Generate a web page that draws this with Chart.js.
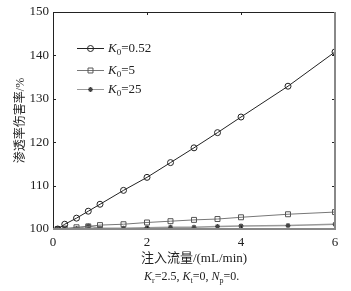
<!DOCTYPE html>
<html lang="zh">
<head>
    <meta charset="UTF-8">
    <title>渗透率伤害率</title>
    <script src="https://cdn.jsdelivr.net/npm/chart.js"></script>
    <style>
        * { margin: 0; padding: 0; box-sizing: border-box; }
        body { background: #fff; width: 351px; height: 291px; overflow: hidden; }
        .chart-box { position: relative; width: 351px; height: 291px; }
    </style>
</head>
<body>
    <div class="chart-box">
        <canvas id="damage"></canvas>
    </div>

    <script>
        // 注入流量 (mL/min)
        const flowRates = [0.1, 0.25, 0.5, 0.75, 1, 1.5, 2, 2.5, 3, 3.5, 4, 5, 6];
        // 渗透率伤害率 (%)
        const damageK052 = [100, 101.1, 102.5, 104.1, 105.7, 108.9, 111.9, 115.3, 118.7, 122.2, 125.8, 132.9, 140.8];
        const damageK5 = [100, 100.1, 100.4, 100.6, 100.9, 101.1, 101.5, 101.8, 102.1, 102.3, 102.7, 103.4, 103.9];
        const damageK25 = [100, 100, 100.1, 100.7, 100.2, 100.2, 100.3, 100.4, 100.4, 100.6, 100.7, 100.8, 101.1];
        const xTicks = [0, 2, 4, 6];
        const yTicks = [100, 110, 120, 130, 140, 150];
        const legendLabels = ['0.52', '5', '25'];

        const SERIF = "'Liberation Serif', 'Noto Sans CJK SC', serif";

        function pairs(ys) {
            return flowRates.map((x, i) => ({ x: x, y: ys[i] }));
        }

        // 图例、边框、内向刻度和参数说明
        const decor = {
            id: 'decor',
            afterDraw(chart) {
                const ctx = chart.ctx;
                const a = chart.chartArea;
                const xs = chart.scales.x, ys = chart.scales.y;
                ctx.save();

                // 内向刻度
                ctx.strokeStyle = '#222';
                ctx.lineWidth = 1;
                ctx.beginPath();
                xTicks.forEach(v => {
                    const px = Math.round(xs.getPixelForValue(v)) + 0.5;
                    ctx.moveTo(px, a.bottom); ctx.lineTo(px, a.bottom - 3);
                    ctx.moveTo(px, a.top); ctx.lineTo(px, a.top + 3);
                });
                yTicks.forEach(v => {
                    const py = Math.round(ys.getPixelForValue(v)) + 0.5;
                    ctx.moveTo(a.left, py); ctx.lineTo(a.left + 3, py);
                    ctx.moveTo(a.right, py); ctx.lineTo(a.right - 3, py);
                });
                ctx.stroke();

                // 边框
                ctx.beginPath();
                ctx.moveTo(a.left + 0.5, a.bottom);
                ctx.lineTo(a.left + 0.5, a.top + 0.5);
                ctx.lineTo(a.right, a.top + 0.5);
                ctx.stroke();
                ctx.strokeStyle = '#888';
                ctx.lineWidth = 2;
                ctx.beginPath();
                ctx.moveTo(a.right, a.top);
                ctx.lineTo(a.right, a.bottom);
                ctx.lineTo(a.left, a.bottom);
                ctx.stroke();

                // 图例
                const rows = [48, 70, 89];
                chart.data.datasets.forEach((ds, i) => {
                    const y = rows[i];
                    ctx.strokeStyle = ds.borderColor;
                    ctx.lineWidth = 1;
                    ctx.beginPath();
                    ctx.moveTo(77, y + 0.5); ctx.lineTo(104, y + 0.5);
                    ctx.stroke();
                    ctx.strokeStyle = ds.pointBorderColor;
                    ctx.fillStyle = ds.pointBackgroundColor;
                    ctx.lineWidth = ds.pointBorderWidth;
                    Chart.helpers.drawPoint(ctx, {
                        pointStyle: ds.pointStyle,
                        rotation: 0,
                        radius: ds.pointRadius,
                        borderWidth: ds.pointBorderWidth
                    }, 90.5, y + 0.5);
                    ctx.fillStyle = '#222';
                    drawSub(ctx, 'K', '0', '=' + legendLabels[i], 108, y + 4, 13);
                });

                // 参数说明
                ctx.fillStyle = '#222';
                let x = 144;
                const cy = 280;
                x = drawSub(ctx, 'K', 'r', '=2.5, ', x, cy, 12);
                x = drawSub(ctx, 'K', 't', '=0, ', x, cy, 12);
                drawSub(ctx, 'N', 'p', '=0.', x, cy, 12);

                ctx.restore();
            }
        };

        function drawSub(ctx, letter, sub, rest, x, y, size) {
            ctx.textBaseline = 'alphabetic';
            ctx.textAlign = 'left';
            ctx.font = 'italic ' + size + 'px ' + SERIF;
            ctx.fillText(letter, x, y);
            x += ctx.measureText(letter).width;
            ctx.font = Math.round(size * 0.7) + 'px ' + SERIF;
            ctx.fillText(sub, x, y + 3);
            x += ctx.measureText(sub).width;
            ctx.font = size + 'px ' + SERIF;
            ctx.fillText(rest, x, y);
            return x + ctx.measureText(rest).width;
        }

        const chartCtx = document.getElementById('damage').getContext('2d');
        new Chart(chartCtx, {
            type: 'line',
            data: {
                datasets: [{
                    label: 'K0=0.52',
                    data: pairs(damageK052),
                    borderColor: '#222',
                    pointBorderColor: '#222',
                    pointBackgroundColor: 'rgba(0,0,0,0)',
                    pointStyle: 'circle',
                    pointRadius: 3,
                    borderWidth: 1,
                    pointBorderWidth: 1
                }, {
                    label: 'K0=5',
                    data: pairs(damageK5),
                    borderColor: '#777',
                    pointBorderColor: '#555',
                    pointBackgroundColor: 'rgba(0,0,0,0)',
                    pointStyle: 'rect',
                    pointRadius: 3.5,
                    borderWidth: 1,
                    pointBorderWidth: 1
                }, {
                    label: 'K0=25',
                    data: pairs(damageK25),
                    borderColor: '#999',
                    pointBorderColor: '#444',
                    pointBackgroundColor: '#444',
                    pointStyle: 'star',
                    pointRadius: 2.5,
                    borderWidth: 1.5,
                    pointBorderWidth: 1.2
                }]
            },
            options: {
                responsive: true,
                maintainAspectRatio: false,
                animation: false,
                layout: { padding: { left: 0, right: 16, top: 12, bottom: 0 } },
                plugins: {
                    legend: { display: false },
                    tooltip: { enabled: false }
                },
                scales: {
                    x: {
                        type: 'linear',
                        min: 0,
                        max: 6,
                        afterBuildTicks: s => { s.ticks = xTicks.map(v => ({ value: v })); },
                        afterFit: s => { s.height = 62; },
                        grid: { display: false, drawTicks: false },
                        border: { display: false },
                        ticks: {
                            padding: 6,
                            color: '#222',
                            font: { family: SERIF, size: 13 }
                        },
                        title: {
                            display: true,
                            text: '注入流量/(mL/min)',
                            color: '#222',
                            font: { family: SERIF, size: 13 },
                            padding: { top: 0, bottom: 25 }
                        }
                    },
                    y: {
                        min: 100,
                        max: 150,
                        afterBuildTicks: s => { s.ticks = yTicks.map(v => ({ value: v })); },
                        afterFit: s => { s.width = 53; },
                        grid: { display: false, drawTicks: false },
                        border: { display: false },
                        ticks: {
                            padding: 4,
                            color: '#222',
                            font: { family: SERIF, size: 13 }
                        },
                        title: {
                            display: true,
                            text: '渗透率伤害率/%',
                            color: '#222',
                            font: { family: SERIF, size: 12 },
                            padding: { top: 14, bottom: 0 }
                        }
                    }
                }
            },
            plugins: [decor]
        });
    </script>
</body>
</html>
